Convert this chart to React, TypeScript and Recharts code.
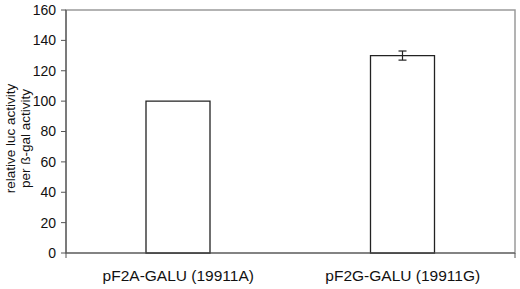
import { BarChart, Bar, XAxis, YAxis, ErrorBar, ReferenceArea } from "recharts";

const categories = ["pF2A-GALU (19911A)", "pF2G-GALU (19911G)"];
const activity = [100, 130];
const errors = [0, 3];
const yTicks = [0, 20, 40, 60, 80, 100, 120, 140, 160];

const data = categories.map((name, i) => ({ name, value: activity[i], err: errors[i] }));

const FONT = "Liberation Sans, Arial, sans-serif";

export default function App() {
  return (
    <div style={{ position: "absolute", left: 0, top: 0, background: "#fff" }}>
      <BarChart width={520} height={289} data={data} margin={{ top: 10, right: 5, left: 0, bottom: 5 }}>
        {/* plot area border (grey top/right) */}
        <ReferenceArea xAxisId="cat" y1={0} y2={160} fill="none" stroke="#9a9a9a" strokeWidth={1.5} ifOverflow="extendDomain" />
        {/* tick marks at category boundaries */}
        <XAxis
          xAxisId={0}
          type="number"
          domain={[0, 2]}
          ticks={[0, 1, 2]}
          height={1}
          tickSize={5}
          tickFormatter={() => ""}
          axisLine={{ stroke: "#555", strokeWidth: 1.2 }}
          tickLine={{ stroke: "#555" }}
        />
        <XAxis
          xAxisId="cat"
          dataKey="name"
          height={30}
          axisLine={false}
          tickLine={false}
          tickMargin={10}
          tick={{ fill: "#111", fontSize: 15.5, fontFamily: FONT }}
        />
        <YAxis
          domain={[0, 160]}
          ticks={yTicks}
          width={66}
          tickSize={5}
          tickMargin={5}
          interval={0}
          axisLine={{ stroke: "#555", strokeWidth: 1.2 }}
          tickLine={{ stroke: "#555" }}
          tick={{ fill: "#111", fontSize: 14, fontFamily: FONT }}
          label={({ viewBox }: any) => {
            const cy = viewBox.y + viewBox.height / 2 + 7;
            return (
              <g fontFamily={FONT} fontSize={13.5} fill="#111" textAnchor="middle">
                <text x={10} y={cy} transform={`rotate(-90 10 ${cy})`} dominantBaseline="central">
                  relative luc activity
                </text>
                <text x={25} y={cy} transform={`rotate(-90 25 ${cy})`} dominantBaseline="central">
                  per ß-gal activity
                </text>
              </g>
            );
          }}
        />
        <Bar xAxisId="cat" dataKey="value" fill="#fff" stroke="#222" strokeWidth={1.3} barSize={64} isAnimationActive={false}>
          <ErrorBar dataKey="err" width={4} stroke="#222" strokeWidth={1.2} isAnimationActive={false} />
        </Bar>
      </BarChart>
    </div>
  );
}
